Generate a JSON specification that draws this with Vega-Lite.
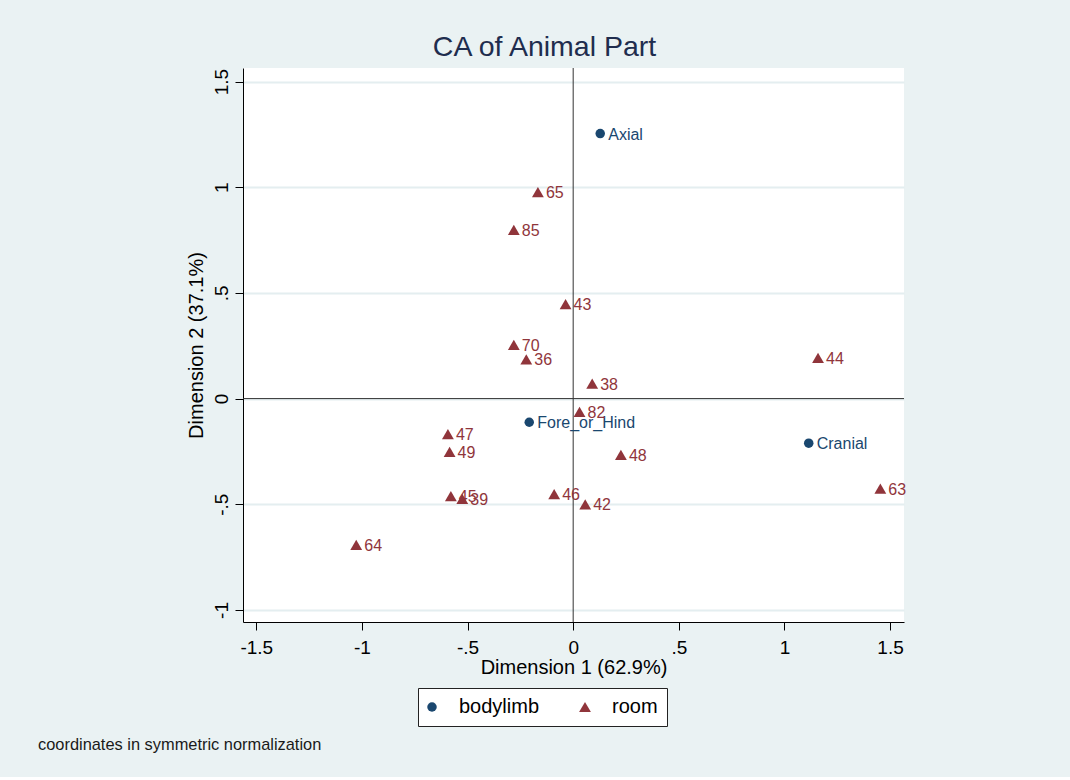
{
  "$schema": "https://vega.github.io/schema/vega-lite/v6.json",
  "background": "#eaf2f3",
  "padding": {"left": 38, "top": 33, "right": 166, "bottom": 24},
  "title": {
    "text": "coordinates in symmetric normalization",
    "orient": "bottom",
    "anchor": "start",
    "frame": "group",
    "dx": -205,
    "offset": 10,
    "fontSize": 16.4,
    "fontWeight": "normal",
    "font": "Liberation Sans",
    "color": "#1a1a1a"
  },
  "vconcat": [
    {
      "width": 661,
      "height": 554,
      "title": {
        "text": "CA of Animal Part",
        "anchor": "middle",
        "frame": "group",
        "dx": -29,
        "offset": 6,
        "fontSize": 28.5,
        "fontWeight": "normal",
        "font": "Liberation Sans",
        "color": "#1f2d4e"
      },
      "layer": [
        {
          "data": {"values": [{}]},
          "mark": {"type": "rule", "color": "#333333", "strokeWidth": 1},
          "encoding": {"x": {"datum": 0, "type": "quantitative"}}
        },
        {
          "data": {"values": [{}]},
          "mark": {"type": "rule", "color": "#333333", "strokeWidth": 1},
          "encoding": {"y": {"datum": 0, "type": "quantitative"}}
        },
        {
          "data": {
            "values": [
              {"label": "Axial", "variable": "bodylimb", "dim1": 0.128, "dim2": 1.254},
              {"label": "Fore_or_Hind", "variable": "bodylimb", "dim1": -0.208, "dim2": -0.112},
              {"label": "Cranial", "variable": "bodylimb", "dim1": 1.115, "dim2": -0.211},
              {"label": "65", "variable": "room", "dim1": -0.167, "dim2": 0.977},
              {"label": "85", "variable": "room", "dim1": -0.281, "dim2": 0.798},
              {"label": "43", "variable": "room", "dim1": -0.036, "dim2": 0.447},
              {"label": "70", "variable": "room", "dim1": -0.281, "dim2": 0.254},
              {"label": "36", "variable": "room", "dim1": -0.222, "dim2": 0.186},
              {"label": "38", "variable": "room", "dim1": 0.090, "dim2": 0.071},
              {"label": "44", "variable": "room", "dim1": 1.159, "dim2": 0.193},
              {"label": "82", "variable": "room", "dim1": 0.030, "dim2": -0.063},
              {"label": "47", "variable": "room", "dim1": -0.593, "dim2": -0.168},
              {"label": "49", "variable": "room", "dim1": -0.585, "dim2": -0.252},
              {"label": "48", "variable": "room", "dim1": 0.226, "dim2": -0.266},
              {"label": "63", "variable": "room", "dim1": 1.454, "dim2": -0.426},
              {"label": "45", "variable": "room", "dim1": -0.579, "dim2": -0.462},
              {"label": "39", "variable": "room", "dim1": -0.525, "dim2": -0.475},
              {"label": "46", "variable": "room", "dim1": -0.090, "dim2": -0.452},
              {"label": "42", "variable": "room", "dim1": 0.057, "dim2": -0.500},
              {"label": "64", "variable": "room", "dim1": -1.027, "dim2": -0.692}
            ]
          },
          "layer": [
            {
              "mark": {"type": "point", "filled": true, "opacity": 1},
              "encoding": {
                "size": {"field": "variable", "type": "nominal", "scale": {"domain": ["bodylimb", "room"], "range": [90, 140]}, "legend": null}
              }
            },
            {
              "mark": {"type": "text", "align": "left", "baseline": "middle", "dx": 8, "dy": 1, "fontSize": 16, "font": "Liberation Sans"},
              "encoding": {"text": {"field": "label"}}
            }
          ],
          "encoding": {
            "x": {"field": "dim1", "type": "quantitative"},
            "y": {"field": "dim2", "type": "quantitative"},
            "color": {
              "field": "variable",
              "type": "nominal",
              "scale": {"domain": ["bodylimb", "room"], "range": ["#1a476f", "#90353b"]},
              "legend": {"title": null, "orient": "none", "direction": "horizontal", "legendX": 175, "legendY": 620}
            },
            "shape": {
              "field": "variable",
              "type": "nominal",
              "scale": {"domain": ["bodylimb", "room"], "range": ["circle", "triangle-up"]},
              "legend": {"title": null, "orient": "none", "direction": "horizontal", "legendX": 175, "legendY": 620}
            }
          }
        }
      ],
      "encoding": {
        "x": {
          "type": "quantitative",
          "scale": {"domain": [-1.563, 1.566], "nice": false, "zero": false},
          "axis": {
            "title": "Dimension 1 (62.9%)",
            "values": [-1.5, -1, -0.5, 0, 0.5, 1, 1.5],
            "labelExpr": "replace(toString(datum.value), '0.', '.')",
            "grid": false,
            "tickSize": 8,
            "labelPadding": 8,
            "titlePadding": 0
          }
        },
        "y": {
          "type": "quantitative",
          "scale": {"domain": [-1.057, 1.564], "nice": false, "zero": false},
          "axis": {
            "title": "Dimension 2 (37.1%)",
            "values": [-1, -0.5, 0, 0.5, 1, 1.5],
            "labelExpr": "replace(toString(datum.value), '0.', '.')",
            "grid": true,
            "gridColor": "#e4eef0",
            "gridWidth": 2,
            "tickSize": 8,
            "labelAngle": 270,
            "labelAlign": "center",
            "labelBaseline": "alphabetic",
            "labelPadding": 8,
            "titlePadding": 6
          }
        }
      }
    }
  ],
  "config": {
    "font": "Liberation Sans",
    "view": {"stroke": null, "fill": "white"},
    "axis": {
      "domainColor": "#000000",
      "domainWidth": 1,
      "tickColor": "#000000",
      "tickWidth": 1,
      "labelFontSize": 19,
      "labelColor": "#000000",
      "labelFont": "Liberation Sans",
      "titleFontSize": 20,
      "titleFontWeight": "normal",
      "titleColor": "#000000",
      "titleFont": "Liberation Sans"
    },
    "legend": {
      "fillColor": "white",
      "strokeColor": "#222222",
      "strokeWidth": 1,
      "padding": 9,
      "labelFontSize": 20,
      "labelColor": "#000000",
      "labelFont": "Liberation Sans",
      "labelOffset": 17,
      "columnPadding": 39,
      "symbolSize": 70,
      "symbolOffset": -5,
      "symbolStrokeWidth": 0
    }
  }
}
